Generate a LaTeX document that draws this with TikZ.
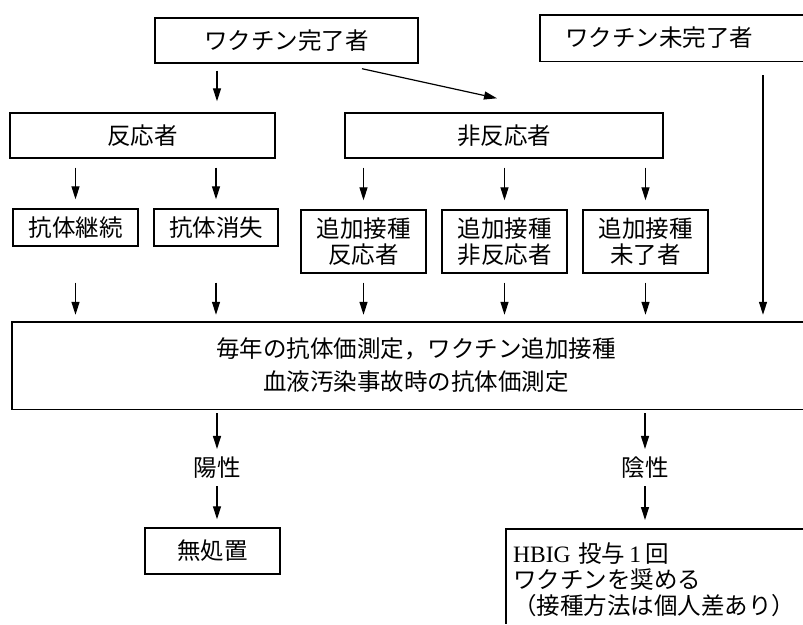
\documentclass[tikz,border=0pt]{standalone}
\usepackage{fontspec}
\setmainfont{Noto Sans CJK JP}
\newfontfamily\lat{Liberation Serif}
\usetikzlibrary{arrows.meta}
\newcommand\jpfont{\fontsize{23.5}{26}\selectfont}
\begin{document}
\begin{tikzpicture}[x=1pt,y=-1pt,
  box/.style={draw, line width=1.4pt, inner sep=0pt, font=\jpfont, align=center},
  open/.style={draw=none, inner sep=0pt, font=\jpfont},
  frame/.style={line width=1.4pt},
  arr/.style={line width=1.2pt, -{Triangle[length=13pt,width=8pt]}},
  lbl/.style={inner sep=0pt, font=\jpfont}]
\useasboundingbox (0,0) rectangle (803,624);
% top row
\node[box, minimum width=263pt, minimum height=45pt] (vc) at (286.5,40.5) {ワクチン完了者};
\node[open, anchor=west, text width=213pt, inner xsep=25pt, minimum height=46pt, align=left] (vm) at (540,38) {ワクチン未完了者};
\draw[frame] (vm.north east) -- (vm.north west) -- (vm.south west) -- (vm.south east);
% second row
\node[box, minimum width=265pt, minimum height=45pt] (hn) at (142.5,135.5) {反応者};
\node[box, minimum width=318pt, minimum height=45pt] (nr) at (504,135.5) {非反応者};
% third row
\node[box, minimum width=125pt, minimum height=37pt] (k1) at (75.5,227.5) {抗体継続};
\node[box, minimum width=124pt, minimum height=37pt] (k2) at (216,227.5) {抗体消失};
\node[box, minimum width=125pt, minimum height=63pt] (t1) at (363.5,241.5) {追加接種\\反応者};
\node[box, minimum width=125pt, minimum height=63pt] (t2) at (504.5,241.5) {追加接種\\非反応者};
\node[box, minimum width=125pt, minimum height=63pt] (t3) at (645.5,241.5) {追加接種\\未了者};
% big box
\node[open, anchor=west, text width=791pt, minimum height=87pt, align=center, font=\fontsize{23.5}{33}\selectfont] (big) at (12,365.5) {\hspace*{17pt}毎年の抗体価測定，ワクチン追加接種\\\hspace*{17pt}血液汚染事故時の抗体価測定};
\draw[frame] (big.north east) -- (big.north west) -- (big.south west) -- (big.south east);
% results
\node[lbl] (pos) at (217,468) {陽性};
\node[lbl] (neg) at (645,468) {陰性};
\node[box, minimum width=135pt, minimum height=46pt] (none) at (212.5,551) {無処置};
\node[open, anchor=north west, text width=283pt, inner xsep=7pt, inner ysep=14pt, align=left, font=\fontsize{23.5}{26}\selectfont] (hb) at (506,529)
  {{\lat HBIG} 投与{\lat\,1\,}回\\ワクチンを奨める\\（接種方法は個人差あり）};
\coordinate (hbb) at (506,624);
\draw[frame] (hb.north east) -- (hb.north west) -- (hbb);
% connectors
\coordinate (a1) at (217,0);
\coordinate (vx) at (763,0);
\draw[arr, shorten <=7pt, shorten >=11pt] (vc.south -| a1) -- (hn.north -| a1);
\draw[arr] ([xshift=75.5pt,yshift=-5pt]vc.south) -- ([xshift=-7pt,yshift=14pt]nr.north);
\foreach \n in {k1,k2} \draw[arr, shorten <=9pt, shorten >=9pt] (hn.south -| \n.north) -- (\n.north);
\foreach \n in {t1,t2,t3} \draw[arr, shorten <=9pt, shorten >=9pt] (nr.south -| \n.north) -- (\n.north);
\foreach \n in {k1,k2} \draw[arr, shorten <=36pt, shorten >=7pt] (\n.south) -- (\n.south |- big.north);
\foreach \n in {t1,t2,t3} \draw[arr, shorten <=9pt, shorten >=7pt] (\n.south) -- (\n.south |- big.north);
\draw[arr, shorten <=14pt, shorten >=7pt] (vm.south -| vx) -- (big.north -| vx);
\draw[arr, shorten <=4pt, shorten >=8pt] (big.south -| pos) -- (pos.north);
\draw[arr, shorten <=4pt, shorten >=8pt] (big.south -| neg) -- (neg.north);
\draw[arr, shorten <=7pt, shorten >=8pt] (pos.south) -- (none.north -| pos);
\draw[arr, shorten <=7pt, shorten >=9pt] (neg.south) -- (hb.north -| neg);
\end{tikzpicture}
\end{document}
